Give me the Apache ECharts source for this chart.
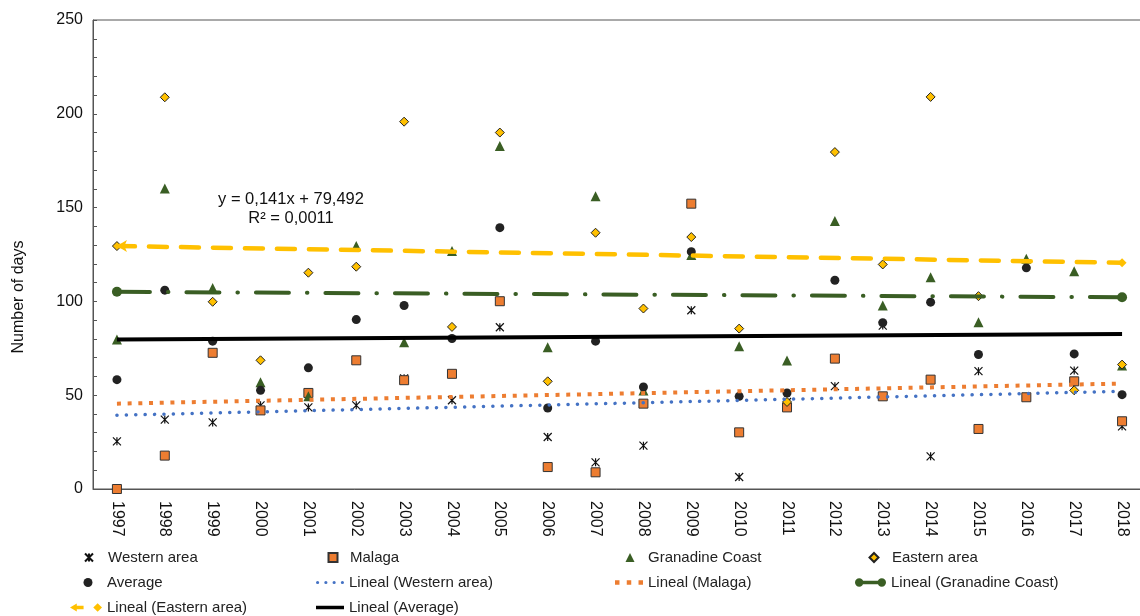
<!DOCTYPE html>
<html>
<head>
<meta charset="utf-8">
<script src="https://cdn.jsdelivr.net/npm/echarts@6/dist/echarts.min.js"></script>
<style>html,body{margin:0;padding:0;background:#fff;}#c{width:1140px;height:616px;}</style>
</head>
<body>
<div id="c"></div>
<script>
const years = ['1997','1998','1999','2000','2001','2002','2003','2004','2005','2006','2007','2008','2009','2010','2011','2012','2013','2014','2015','2016','2017','2018'];
const western   = [25.4, 37.0, 35.5, 44.6, 43.5, 44.6, 59.0, 47.3, 86.2, 27.7, 14.2, 23.1, 95.3, 6.4, 46.4, 54.8, 87.1, 17.4, 62.8, 49.0, 63.1, 33.4];
const malaga    = [0, 17.8, 72.6, 41.9, 51.2, 68.6, 58.0, 61.4, 100.1, 11.7, 8.9, 45.5, 152.1, 30.2, 43.5, 69.5, 49.4, 58.3, 32.0, 48.9, 57.4, 36.1];
const granadine = [79.7, 160.2, 107.2, 56.9, 49.5, 129.5, 78.2, 126.8, 182.8, 75.6, 156.1, 52.5, 124.8, 76.1, 68.5, 142.8, 97.8, 112.9, 88.9, 122.7, 116.1, 65.8];
const eastern   = [129.5, 208.8, 99.8, 68.6, 115.3, 118.5, 195.8, 86.4, 190.0, 57.4, 136.6, 96.2, 134.3, 85.5, 46.4, 179.6, 119.7, 209.0, 102.8, 251, 52.6, 66.3];
const average   = [58.3, 106.0, 78.8, 52.6, 64.6, 90.3, 97.8, 80.2, 139.3, 43.2, 78.8, 54.4, 126.5, 49.4, 51.2, 111.3, 88.6, 99.6, 71.7, 117.9, 72.0, 50.3];
// trendline endpoints [1997, 2018]
const trendWestern   = [39.3, 52.1];
const trendMalaga    = [45.5, 56.2];
const trendGranadine = [105.1, 102.2];
const trendEastern   = [129.5, 120.6];
const trendAverage   = [79.63, 82.59];
const equationLines  = ['y = 0,141x + 79,492', 'R² = 0,0011'];
const yTicks = {min: 0, max: 250, step: 10, labelStep: 50};

const FONT = '"Liberation Sans", Arial, sans-serif';
const GREEN = '#3A5E24', YELLOW = '#FFC000', ORANGE = '#ED7D31', BLUE = '#4472C4';

// legend icon shapes
const ICON_DOTS = 'path://M0,4.5a1.6,1.6 0 1,1 3.2,0a1.6,1.6 0 1,1 -3.2,0M8.3,4.5a1.6,1.6 0 1,1 3.2,0a1.6,1.6 0 1,1 -3.2,0M16.6,4.5a1.6,1.6 0 1,1 3.2,0a1.6,1.6 0 1,1 -3.2,0M24.9,4.5a1.6,1.6 0 1,1 3.2,0a1.6,1.6 0 1,1 -3.2,0';
const ICON_SQUARES = 'path://M0,2.5h4v4h-4zM10.5,2.5h4v4h-4zM21,2.5h4v4h-4z';
const ICON_ENDDOTS = 'path://M0,4.5a4.5,4.5 0 1,1 9,0a4.5,4.5 0 1,1 -9,0M24,4.5a4.5,4.5 0 1,1 9,0a4.5,4.5 0 1,1 -9,0M4.5,2.75h24v3.5h-24z';
const ICON_ARROW = 'path://M0,4.5L7,0.5L7,8.5ZM6,2.6h8v3.8h-8zM24,4.5L28.5,0L33,4.5L28.5,9Z';
const ICON_SOLID = 'path://M0,2.5h32v4h-32z';

function endpoints(pair, firstItem, lastItem) {
  const d = years.map(() => null);
  d[0] = Object.assign({value: pair[0]}, firstItem || {});
  d[d.length - 1] = Object.assign({value: pair[1]}, lastItem || {});
  return d;
}

const chart = echarts.init(document.getElementById('c'), null, {renderer: 'canvas'});

function legMarker(name, markerX, textX, top, size) {
  return {
    data: [name], left: markerX - size / 2, top: top, padding: 0,
    itemWidth: size, itemHeight: size, itemGap: 0,
    selectedMode: false,
    textStyle: {fontFamily: FONT, fontSize: 15, color: '#222',
      padding: [0, 0, 0, Math.max(0, textX - (markerX + size / 2) - 5)]}
  };
}
function legLine(name, left, textX, top, icon, h) {
  const w = textX - left - 5;
  return {
    data: [{name: name, icon: icon}], left: left, top: top, padding: 0,
    itemWidth: w, itemHeight: h || 9, itemGap: 0,
    selectedMode: false,
    textStyle: {fontFamily: FONT, fontSize: 15, color: '#222'}
  };
}

const option = {
  animation: false,
  backgroundColor: '#fff',
  grid: {left: 93, top: 20, width: 1053, height: 469, show: true, borderColor: '#555', borderWidth: 1,
    containLabel: false, outerBoundsMode: 'none'},
  xAxis: {
    type: 'category', data: years, boundaryGap: true,
    axisLine: {lineStyle: {color: '#555', width: 1}},
    axisTick: {inside: true, length: 4, interval: 0, lineStyle: {color: '#555'}},
    axisLabel: {rotate: -90, margin: 12, interval: 0, fontFamily: FONT, fontSize: 16, color: '#111'}
  },
  yAxis: {
    type: 'value', min: yTicks.min, max: yTicks.max, interval: yTicks.step,
    axisLine: {show: true, lineStyle: {color: '#555', width: 1}},
    axisTick: {show: true, inside: true, length: 4, lineStyle: {color: '#555'}},
    splitLine: {show: false},
    axisLabel: {margin: 10, fontFamily: FONT, fontSize: 16, color: '#111',
      formatter: v => (v % yTicks.labelStep === 0 ? String(v) : '')}
  },
  legend: [
    legMarker('Western area', 88, 107, 550, 8),
    legMarker('Malaga', 332, 349, 550, 9),
    legMarker('Granadine Coast', 630, 648, 550, 9),
    legMarker('Eastern area', 873, 891, 550, 9),
    legMarker('Average', 88, 107, 575, 9),
    legLine('Lineal (Western area)', 316, 349, 575, ICON_DOTS),
    legLine('Lineal (Malaga)', 615, 648, 575, ICON_SQUARES),
    legLine('Lineal (Granadine Coast)', 855, 891, 575, ICON_ENDDOTS),
    legLine('Lineal (Eastern area)', 70, 107, 600, ICON_ARROW),
    legLine('Lineal (Average)', 316, 349, 600, ICON_SOLID)
  ],
  graphic: [
    {type: 'text', x: 19, y: 297, rotation: Math.PI / 2,
      style: {text: 'Number of days', font: '16px ' + FONT, fill: '#111', align: 'center', verticalAlign: 'middle'}},
    {type: 'text', x: 291, y: 199,
      style: {text: equationLines[0], font: '16.5px ' + FONT, fill: '#111', align: 'center', verticalAlign: 'middle'}},
    {type: 'text', x: 291, y: 218,
      style: {text: equationLines[1], font: '16.5px ' + FONT, fill: '#111', align: 'center', verticalAlign: 'middle'}}
  ],
  series: [
    {name: 'Western area', type: 'scatter', data: western, clip: true, z: 2,
      symbol: 'path://M0,0L8,8M8,0L0,8M4,0L4,8', symbolSize: 8,
      itemStyle: {color: 'rgba(0,0,0,0)', borderColor: '#111', borderWidth: 1.2, opacity: 1}},
    {name: 'Malaga', type: 'scatter', data: malaga, clip: true, z: 2,
      symbol: 'rect', symbolSize: 9,
      itemStyle: {color: ORANGE, borderColor: '#333', borderWidth: 1, opacity: 1}},
    {name: 'Granadine Coast', type: 'scatter', data: granadine, clip: true, z: 2,
      symbol: 'triangle', symbolSize: 10,
      itemStyle: {color: GREEN, opacity: 1}},
    {name: 'Eastern area', type: 'scatter', data: eastern, clip: true, z: 2,
      symbol: 'diamond', symbolSize: 9,
      itemStyle: {color: YELLOW, borderColor: '#222', borderWidth: 1, opacity: 1}},
    {name: 'Average', type: 'scatter', data: average, clip: true, z: 2,
      symbol: 'circle', symbolSize: 9,
      itemStyle: {color: '#222', opacity: 1}},
    {name: 'Lineal (Western area)', type: 'line', data: endpoints(trendWestern), connectNulls: true, z: 3,
      symbol: 'none', showSymbol: false,
      itemStyle: {color: BLUE},
      lineStyle: {color: BLUE, width: 3.5, type: [0.1, 9.3], cap: 'round'}},
    {name: 'Lineal (Malaga)', type: 'line', data: endpoints(trendMalaga), connectNulls: true, z: 3,
      symbol: 'none', showSymbol: false,
      itemStyle: {color: ORANGE},
      lineStyle: {color: ORANGE, width: 4, type: [4, 6.7], cap: 'butt'}},
    {name: 'Lineal (Granadine Coast)', type: 'line', data: endpoints(trendGranadine), connectNulls: true, z: 3,
      symbol: 'circle', symbolSize: 10, showSymbol: true,
      itemStyle: {color: GREEN},
      lineStyle: {color: GREEN, width: 4, type: [33, 18, 0.5, 18], cap: 'round'}},
    {name: 'Lineal (Eastern area)', type: 'line',
      data: endpoints(trendEastern, {symbol: 'arrow', symbolRotate: 90, symbolSize: [9, 10]}, {symbol: 'diamond', symbolSize: 9}),
      connectNulls: true, z: 3,
      symbol: 'diamond', symbolSize: 8, showSymbol: true,
      itemStyle: {color: YELLOW},
      lineStyle: {color: YELLOW, width: 4.5, type: [18, 14], cap: 'round'}},
    {name: 'Lineal (Average)', type: 'line', data: endpoints(trendAverage), connectNulls: true, z: 3,
      symbol: 'none', showSymbol: false,
      itemStyle: {color: '#000'},
      lineStyle: {color: '#000', width: 4}}
  ]
};
chart.setOption(option);
</script>
</body>
</html>
